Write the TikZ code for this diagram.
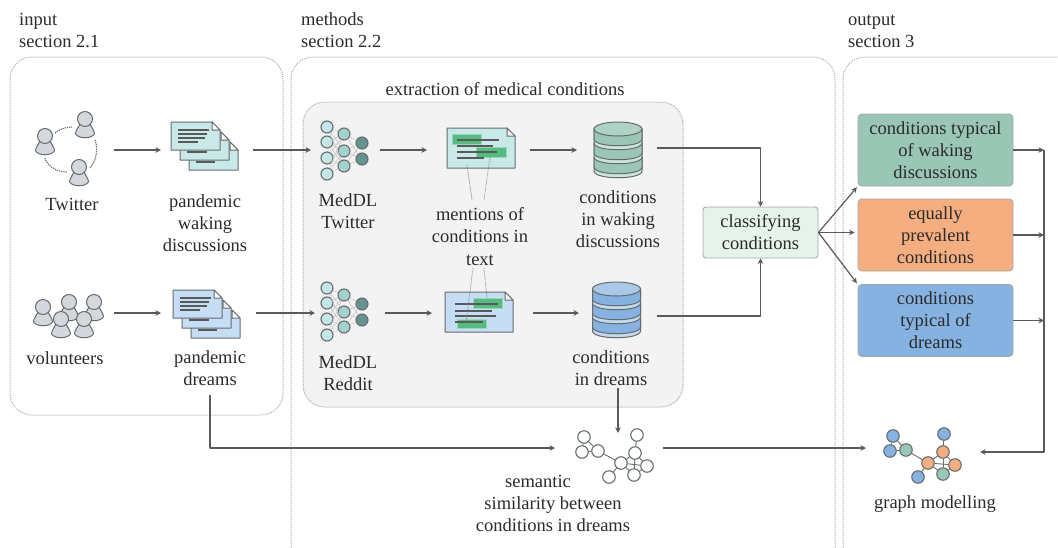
\documentclass[tikz,border=0pt]{standalone}
\usepackage{fontspec}
\setmainfont{Liberation Serif}
\usetikzlibrary{arrows.meta,calc}
\definecolor{txt}{HTML}{2B2B2B}
\definecolor{arrowgray}{HTML}{5A5A5A}
\definecolor{panelgray}{HTML}{ADADAD}
\definecolor{innerfill}{HTML}{F3F3F3}
\definecolor{personfill}{HTML}{D4D7DC}
\definecolor{iconline}{HTML}{666C6C}
\definecolor{wakingfill}{HTML}{C9E8E8}
\definecolor{dreamfill}{HTML}{C5DDF5}
\definecolor{markgreen}{HTML}{55BB80}
\definecolor{netlight}{HTML}{C4E6E6}
\definecolor{netmid}{HTML}{A2D2CC}
\definecolor{netdark}{HTML}{649490}
\definecolor{classfill}{HTML}{E6F3EA}
\definecolor{typgreen}{HTML}{9AC7B5}
\definecolor{typorange}{HTML}{F5AE80}
\definecolor{typblue}{HTML}{85B2E0}
\tikzset{
  lbl/.style={align=center,inner sep=0pt,text=txt,font=\fontsize{18.5}{22}\selectfont},
  headlbl/.style={lbl,align=left,anchor=north west},
  arrow/.style={draw=arrowgray,line width=1.2pt,-{Stealth[length=5.5pt,width=5.5pt]}},
  panel/.style={draw=panelgray,line width=1pt,densely dotted,rounded corners=22pt},
  iconbox/.style={inner sep=0pt,outer sep=0pt},
  outbox/.style={lbl,draw=black!35,line width=0.9pt,rounded corners=4pt,minimum width=155pt,minimum height=72pt},
  gnode/.style={circle,draw=iconline,line width=1.1pt,minimum size=12.5pt,inner sep=0pt,fill=white},
  gedge/.style={draw=iconline,line width=0.9pt},
  netedge/.style={draw=black!22,line width=0.6pt},
  docline/.style={draw=iconline,line width=1pt},
  textline/.style={draw=black!65,line width=1.3pt},
  person/.pic={
    \draw[iconline,line width=1pt,fill=personfill](-5,5) .. controls (-7,9) and (-9.5,12) .. (-9.5,15) .. controls (-6,20) and (6,20) .. (9.5,15) .. controls (9.5,12) and (7,9) .. (5,5) -- cycle;
    \draw[iconline,line width=1pt,fill=personfill](0,0) circle[radius=7.5pt];
  }
}
% one sheet: width, height, fill
\newcommand{\docpage}[3]{%
  \draw[docline,fill=#3](0,0)--({#1-8},0)--(#1,8)--(#1,#2)--(0,#2)--cycle;
  \draw[docline,fill=white]({#1-8},0)--({#1-8},8)--(#1,8)--cycle;
}
% stack of three sheets: x, y, fill
\newcommand{\docstack}[3]{%
  \begin{scope}[shift={(#1+18,#2+20)}]
    \docpage{49}{28}{#3}
    \draw[textline](7,20)--(26,20);
  \end{scope}
  \begin{scope}[shift={(#1+9,#2+10)}]
    \docpage{49}{28}{#3}
    \draw[textline](7,20)--(27,20);
  \end{scope}
  \begin{scope}[shift={(#1,#2)}]
    \docpage{49}{28}{#3}
    \foreach \w/\d in {31/8,29/12,27/16,20/20}{%
      \draw[textline](7,\d)--(7+\w,\d);
    }
  \end{scope}
}
% network: prefix, y shift
\newcommand{\medNet}[2]{%
  \begin{scope}[shift={(0,#2)}]
    \foreach \n/\y in {1/127,2/142,3/158,4/174}{%
      \node[gnode,fill=netlight,minimum size=12pt](#1a\n) at (327,\y){};
    }
    \foreach \n/\y in {1/134,2/151,3/166}{%
      \node[gnode,fill=netmid,minimum size=12pt](#1b\n) at (344,\y){};
    }
    \foreach \n/\y in {1/143,2/159}{%
      \node[gnode,fill=netdark,minimum size=12pt](#1c\n) at (362,\y){};
    }
    \foreach \a in {1,2,3,4}{%
      \foreach \b in {1,2,3}{\draw[netedge](#1a\a)--(#1b\b);}
    }
    \foreach \a in {1,2,3}{%
      \foreach \b in {1,2}{\draw[netedge](#1b\a)--(#1c\b);}
    }
  \end{scope}
}
% database: x, y of the top, top colour, band colour, light colour
\newcommand{\dbIcon}[5]{%
  \begin{scope}[shift={(#1,#2)}]
    \foreach \t in {35,21,7}{%
      \draw[docline,fill=#5](-24,\t)--(-24,\t+14) .. controls (-24,\t+23) and (24,\t+23) .. (24,\t+14)--(24,\t)--cycle;
      \draw[docline,fill=#4](-24,\t)--(-24,\t+10) .. controls (-24,\t+19) and (24,\t+19) .. (24,\t+10)--(24,\t)--cycle;
    }
    \draw[docline,fill=#3](0,7) circle[x radius=24pt,y radius=7pt];
  \end{scope}
}
\begin{document}
\begin{tikzpicture}[x=1pt,y=-1pt,line join=round]
  \useasboundingbox (0,0) rectangle (1058,547);
  \clip (0,0) rectangle (1058,547);
  % panels
  \draw[panel](10,57) rectangle (283,415);
  \draw[panel](291,57) rectangle (835,575);
  \draw[panel](843,57) rectangle (1085,575);
  \draw[panel,fill=innerfill](303,102) rectangle (683,407);
  \node[headlbl] (inputhead) at (19,10) {\strut input\\section 2.1};
  \node[headlbl] (methodshead) at (301,10) {\strut methods\\section 2.2};
  \node[headlbl] (outputhead) at (848,10) {\strut output\\section 3};
  \node[lbl] (extraction) at (505,89) {extraction of medical conditions};
  % icon places, the arrows run between them
  \node[iconbox,minimum width=98pt,minimum height=60pt] (twitter) at (65,150) {};
  \node[iconbox,minimum width=92pt,minimum height=50pt] (wakingdocs) at (207,150) {};
  \node[iconbox,minimum width=69pt,minimum height=50pt] (medtwitter) at (345.5,150) {};
  \node[iconbox,minimum width=103pt,minimum height=40pt] (mentionwaking) at (478.5,150) {};
  \node[iconbox,minimum width=80pt,minimum height=56pt] (wakingdb) at (617,150) {};
  \node[iconbox,minimum width=100pt,minimum height=40pt] (volunteers) at (64,313) {};
  \node[iconbox,minimum width=95pt,minimum height=50pt] (dreamdocs) at (208.5,313) {};
  \node[iconbox,minimum width=70pt,minimum height=50pt] (medreddit) at (350,313) {};
  \node[iconbox,minimum width=101pt,minimum height=40pt] (mentiondream) at (482.5,313) {};
  \node[iconbox,minimum width=78pt,minimum height=56pt] (dreamdb) at (618,313) {};
  \node[iconbox,minimum width=108pt,minimum height=30pt] (semgraph) at (609,448) {};
  \node[iconbox,minimum width=114pt,minimum height=30pt] (modelgraph) at (923,448) {};
  % people
  \draw[iconline,line width=1.2pt,densely dotted](55,133) .. controls (60,129) and (66,127) .. (72,127);
  \draw[iconline,line width=1.2pt,densely dotted](95,140) .. controls (98,148) and (97,160) .. (90,168);
  \draw[iconline,line width=1.2pt,densely dotted](45,158) .. controls (47,165) and (55,172) .. (67,172);
  \foreach \x/\y in {45/136,85/119,79/167,43/307,69/302,94/302,61/319,84/319}{%
    \pic at (\x,\y) {person};
  }
  % documents
  \docstack{171}{122}{wakingfill}
  \docstack{173}{290}{dreamfill}
  % networks
  \medNet{t}{0}
  \medNet{r}{161}
  % marked documents
  \begin{scope}[shift={(447,128)}]
    \docpage{68}{40}{wakingfill}
    \fill[markgreen,draw=markgreen!60,line width=1pt](5,6) rectangle (34,16);
    \fill[markgreen,draw=markgreen!60,line width=1pt](29,19) rectangle (59,29);
    \foreach \w/\d in {42/12,36/18,40/24,27/30}{%
      \draw[textline](10,\d)--(10+\w,\d);
    }
  \end{scope}
  \begin{scope}[shift={(445,292)}]
    \docpage{68}{40}{dreamfill}
    \fill[markgreen,draw=markgreen!60,line width=1pt](28,6) rectangle (57,16);
    \fill[markgreen,draw=markgreen!60,line width=1pt](12,27) rectangle (41,36);
    \foreach \w/\d in {43/12,37/19,41/24,28/30}{%
      \draw[textline](10,\d)--(10+\w,\d);
    }
  \end{scope}
  % databases
  \dbIcon{618}{122}{typgreen!80}{typgreen}{typgreen!50}
  \dbIcon{616.5}{282}{typblue!70}{typblue}{typblue!50}
  % labels
  \node[lbl] (twitterlabel) at (72,204) {Twitter};
  \node[lbl] (wakinglabel) at (205,223) {pandemic\\waking\\discussions};
  \node[lbl] (medtwitterlabel) at (348,211) {MedDL\\Twitter};
  \node[lbl] (mentionlabel) at (480,237) {mentions of\\conditions in\\[1pt]text};
  \node[lbl] (wakingdblabel) at (618,219) {conditions\\in waking\\discussions};
  \node[lbl] (volunteerlabel) at (65,358) {volunteers};
  \node[lbl] (dreamlabel) at (210,368) {pandemic\\dreams};
  \node[lbl] (medredditlabel) at (348,373) {MedDL\\Reddit};
  \node[lbl] (dreamdblabel) at (611,368) {conditions\\in dreams};
  \node[lbl] (semlabel) at (553,503) {semantic\hspace*{30pt}\\similarity between\\conditions in dreams};
  \node[lbl] (modellabel) at (935,504) {graph modelling};
  % dotted leaders of the mentions
  \coordinate (ma) at (467,165);
  \coordinate (mb) at (472,200);
  \coordinate (mc) at (490,157);
  \coordinate (md) at (484,200);
  \coordinate (me) at (473,268);
  \coordinate (mf) at (466,323);
  \coordinate (mg) at (484,268);
  \coordinate (mh) at (487,298);
  \foreach \a/\b in {ma/mb,mc/md,me/mf,mg/mh}{%
    \draw[black!50,line width=0.8pt,densely dotted](\a)--(\b);
  }
  % boxes
  \node[lbl,draw=black!35,line width=0.9pt,fill=classfill,rounded corners=3pt,minimum width=115pt,minimum height=51pt] (classify) at (760.5,232.5) {classifying\\conditions};
  \node[outbox,fill=typgreen] (typwaking) at (935.5,150) {conditions typical\\of waking\\discussions};
  \node[outbox,fill=typorange] (typequal) at (935.5,235) {equally\\prevalent\\conditions};
  \node[outbox,fill=typblue] (typdream) at (935.5,320.5) {conditions\\typical of\\dreams};
  % semantic graph
  \foreach \n/\x/\y in {1/584/437,2/582/452,3/598/451,4/621/463,5/637/435,6/635/453,7/647/466,8/634/475,9/609/477}{%
    \node[gnode](s\n) at (\x,\y){};
  }
  \foreach \a/\b in {1/2,1/3,2/3,3/4,4/6,4/7,4/8,4/9,5/6,6/7,6/8,7/8}{%
    \draw[gedge](s\a)--(s\b);
  }
  % coloured graph
  \foreach \n/\x/\y/\c in {1/893/436/typblue,2/890/451/typblue,3/906/450/typgreen,4/928/463/typorange,5/944/434/typblue,6/943/452/typorange,7/955/465/typorange,8/943/474/typgreen,9/918/477/typblue}{%
    \node[gnode,fill=\c](m\n) at (\x,\y){};
  }
  \foreach \a/\b in {1/2,1/3,2/3,3/4,4/6,4/7,4/8,4/9,5/6,6/7,6/8,7/8}{%
    \draw[gedge](m\a)--(m\b);
  }
  % arrows
  \draw[arrow](twitter)--(wakingdocs);
  \draw[arrow](wakingdocs)--(medtwitter);
  \draw[arrow](medtwitter)--(mentionwaking);
  \draw[arrow](mentionwaking)--(wakingdb);
  \draw[arrow](volunteers)--(dreamdocs);
  \draw[arrow](dreamdocs)--(medreddit);
  \draw[arrow](medreddit)--(mentiondream);
  \draw[arrow](mentiondream)--(dreamdb);
  \draw[arrow]([yshift=2pt]wakingdb.east)-|(classify.north);
  \draw[arrow]([yshift=-3pt]dreamdb.east)-|(classify.south);
  \draw[arrow,shorten >=1pt](classify.east)--(typwaking.south west);
  \draw[arrow,shorten >=3pt](classify.east)--(classify.east-|typequal.west);
  \draw[arrow,shorten >=1pt](classify.east)--(typdream.north west);
  \coordinate (bustop) at (1044,150);
  \coordinate (busbot) at (1044,452);
  \draw[arrow](typwaking.east)--(typwaking.east-|bustop);
  \draw[arrow](typequal.east)--(typequal.east-|bustop);
  \draw[arrow](typdream.east)--(typdream.east-|bustop);
  \draw[arrow](bustop)--(busbot)--(modelgraph.east|-busbot);
  \coordinate (dreamout) at (210,395);
  \draw[arrow](dreamout)|-(semgraph.west);
  \coordinate (dbout) at (618,388);
  \draw[arrow](dbout)--(dbout|-semgraph.north);
  \draw[arrow](semgraph.east)--(modelgraph.west);
\end{tikzpicture}
\end{document}
